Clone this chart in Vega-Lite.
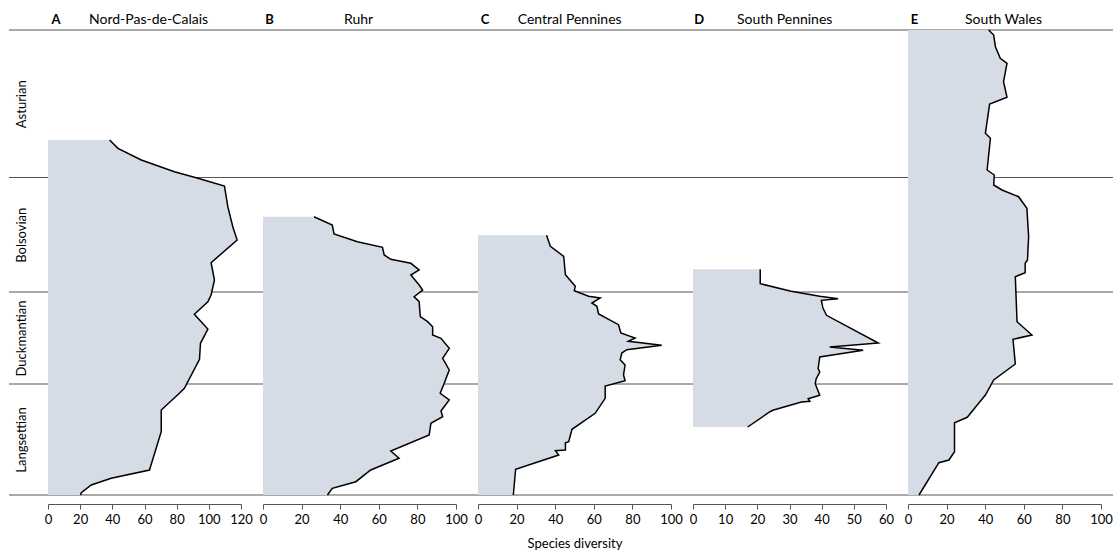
{
  "$schema": "https://vega.github.io/schema/vega-lite/v6.json",
  "background": "white",
  "padding": {"left": 8, "top": 12, "right": 8, "bottom": 2},
  "bounds": "flush",
  "spacing": 22,
  "config": {
    "font": "Lato",
    "view": {"stroke": null},
    "axis": {"grid": false, "labelFont": "Lato", "titleFont": "Lato", "labelColor": "#000", "titleColor": "#000"}
  },
  "datasets": {
    "bounds": [{"pos": 0}, {"pos": 111}, {"pos": 203}, {"pos": 317.5}, {"pos": 465}],
    "titles": [
      {"panel": "A", "letter": "A", "name": "Nord-Pas-de-Calais"},
      {"panel": "B", "letter": "B", "name": "Ruhr"},
      {"panel": "C", "letter": "C", "name": "Central Pennines"},
      {"panel": "D", "letter": "D", "name": "South Pennines"},
      {"panel": "E", "letter": "E", "name": "South Wales"}
    ],
    "A": [
      {"pos": 355, "div": 38.3}, {"pos": 346.7, "div": 43.5}, {"pos": 335, "div": 58}, {"pos": 323.3, "div": 78.6},
      {"pos": 316.7, "div": 93.2}, {"pos": 309, "div": 109.7}, {"pos": 288.3, "div": 111.8}, {"pos": 268.3, "div": 114.9},
      {"pos": 255, "div": 117.6}, {"pos": 232.3, "div": 101.4}, {"pos": 215, "div": 103.5}, {"pos": 200, "div": 101.4},
      {"pos": 193.3, "div": 99.4}, {"pos": 180.7, "div": 91}, {"pos": 166, "div": 99.4}, {"pos": 151.7, "div": 94.8},
      {"pos": 135.7, "div": 94.2}, {"pos": 106.7, "div": 84.8}, {"pos": 101.7, "div": 81.7}, {"pos": 85, "div": 70.4},
      {"pos": 63.3, "div": 70.4}, {"pos": 25, "div": 63.1}, {"pos": 16.7, "div": 39.3}, {"pos": 10, "div": 26.9},
      {"pos": 2.3, "div": 20.7}, {"pos": 0, "div": 20.2}
    ],
    "B": [
      {"pos": 278.3, "div": 26.4}, {"pos": 270, "div": 35.9}, {"pos": 261, "div": 36.8}, {"pos": 253.3, "div": 48.9},
      {"pos": 247.7, "div": 61.9}, {"pos": 240, "div": 62.8}, {"pos": 235.7, "div": 66.2}, {"pos": 231.7, "div": 76.6},
      {"pos": 225, "div": 80.9}, {"pos": 220, "div": 76.6}, {"pos": 210, "div": 80.9}, {"pos": 205, "div": 82.7},
      {"pos": 198.3, "div": 78.3}, {"pos": 193.3, "div": 80.9}, {"pos": 178.3, "div": 81.5}, {"pos": 173.3, "div": 85.3},
      {"pos": 168.3, "div": 87.9}, {"pos": 160, "div": 87.9}, {"pos": 156.7, "div": 92.2}, {"pos": 146.7, "div": 96.5},
      {"pos": 136.7, "div": 93.1}, {"pos": 125, "div": 96.5}, {"pos": 111.7, "div": 93.9}, {"pos": 101.7, "div": 91.8},
      {"pos": 95, "div": 96.5}, {"pos": 84, "div": 92.2}, {"pos": 78.3, "div": 93.1}, {"pos": 71.7, "div": 87},
      {"pos": 60, "div": 86.1}, {"pos": 44, "div": 66.2}, {"pos": 36.7, "div": 70.5}, {"pos": 25, "div": 55.8},
      {"pos": 13.3, "div": 48.1}, {"pos": 6.7, "div": 35.9}, {"pos": 0, "div": 33.4}
    ],
    "C": [
      {"pos": 259.7, "div": 35.5}, {"pos": 248.7, "div": 37.5}, {"pos": 238.7, "div": 44.4}, {"pos": 220.3, "div": 45.3},
      {"pos": 208.7, "div": 50.4}, {"pos": 204.3, "div": 49.9}, {"pos": 198.7, "div": 57.3}, {"pos": 197, "div": 63.3},
      {"pos": 192, "div": 59}, {"pos": 188.7, "div": 61.6}, {"pos": 181, "div": 62.5}, {"pos": 170.3, "div": 72.8},
      {"pos": 162, "div": 74}, {"pos": 157, "div": 81.4}, {"pos": 153.7, "div": 77.9}, {"pos": 149.7, "div": 95.2},
      {"pos": 145.3, "div": 77.1}, {"pos": 142, "div": 74.5}, {"pos": 135.3, "div": 73.7}, {"pos": 130, "div": 76.2},
      {"pos": 120, "div": 75.4}, {"pos": 114.3, "div": 76.2}, {"pos": 109, "div": 65.9}, {"pos": 96.7, "div": 65.9},
      {"pos": 81.7, "div": 60.7}, {"pos": 65.7, "div": 48.7}, {"pos": 53.3, "div": 47}, {"pos": 52.3, "div": 45.3},
      {"pos": 45, "div": 45.3}, {"pos": 44.3, "div": 40.1}, {"pos": 40, "div": 41.8}, {"pos": 25.7, "div": 19.5},
      {"pos": 0, "div": 18.3}
    ],
    "D": [
      {"pos": 225.7, "div": 20.9}, {"pos": 211.3, "div": 20.9}, {"pos": 203.7, "div": 30.5}, {"pos": 198.7, "div": 39.4},
      {"pos": 196.3, "div": 45.1}, {"pos": 194.7, "div": 39.9}, {"pos": 187, "div": 40.4}, {"pos": 179.7, "div": 41.5},
      {"pos": 152, "div": 57.6}, {"pos": 148, "div": 42.5}, {"pos": 144.7, "div": 52.9}, {"pos": 138, "div": 39.4},
      {"pos": 126.3, "div": 38.9}, {"pos": 123, "div": 39.4}, {"pos": 116.3, "div": 38.3}, {"pos": 111.3, "div": 38},
      {"pos": 99.7, "div": 39.4}, {"pos": 96.3, "div": 35.8}, {"pos": 93.7, "div": 36.3}, {"pos": 93, "div": 33.7},
      {"pos": 84.7, "div": 24.8}, {"pos": 83, "div": 23.8}, {"pos": 68, "div": 17}
    ],
    "E": [
      {"pos": 465, "div": 41.8}, {"pos": 460, "div": 44.4}, {"pos": 448.3, "div": 45.3}, {"pos": 436.7, "div": 47.8},
      {"pos": 431.7, "div": 51.3}, {"pos": 413.3, "div": 49.5}, {"pos": 397.7, "div": 51.3}, {"pos": 391, "div": 42.3},
      {"pos": 361.7, "div": 40.1}, {"pos": 356.7, "div": 42.7}, {"pos": 325, "div": 41}, {"pos": 320, "div": 44.7},
      {"pos": 310, "div": 44.4}, {"pos": 305, "div": 48.7}, {"pos": 298.3, "div": 57.3}, {"pos": 286.7, "div": 61.6},
      {"pos": 258.3, "div": 62.5}, {"pos": 235, "div": 61.9}, {"pos": 231.7, "div": 60.7}, {"pos": 222.3, "div": 60.7},
      {"pos": 218.3, "div": 55.6}, {"pos": 173.3, "div": 56.5}, {"pos": 160, "div": 64.2}, {"pos": 155.7, "div": 54.4},
      {"pos": 131, "div": 55.6}, {"pos": 115, "div": 44.4}, {"pos": 100, "div": 40.1}, {"pos": 91.7, "div": 36.6},
      {"pos": 77.7, "div": 30.7}, {"pos": 72.3, "div": 24.1}, {"pos": 43.3, "div": 24.1}, {"pos": 35, "div": 21.2},
      {"pos": 32.3, "div": 16}, {"pos": 0, "div": 5.7}
    ]
  },
  "hconcat": [
    {
      "width": 193, "height": 465,
      "encoding": {
        "x": {"type": "quantitative", "scale": {"domain": [0, 120], "nice": false},
              "axis": {"values": [0, 20, 40, 60, 80, 100, 120], "offset": 9, "tickSize": 5, "labelPadding": 4, "domainColor": "#555", "tickColor": "#555", "labelFontSize": 13, "labelFlush": false, "labelOverlap": false, "title": null}},
        "y": {"type": "quantitative", "scale": {"domain": [0, 465], "nice": false, "zero": false},
              "axis": {"values": [55.5, 157, 260.25, 391.25], "labelExpr": "datum.value < 100 ? 'Langsettian' : datum.value < 200 ? 'Duckmantian' : datum.value < 300 ? 'Bolsovian' : 'Asturian'",
                       "labelAngle": -90, "labelAlign": "center", "labelBaseline": "bottom", "domain": false, "ticks": false, "tickSize": 0, "labelPadding": 20, "labelFontSize": 13, "title": null, "labelOverlap": false}}
      },
      "layer": [
        {"data": {"name": "bounds"}, "mark": {"type": "rule", "color": "#555", "strokeWidth": 1},
         "encoding": {"y": {"field": "pos"}, "x": {"datum": -24.25}, "x2": {"datum": 133.68}}},
        {"data": {"name": "A"}, "mark": {"type": "area", "orient": "horizontal", "color": "#d6dce5"},
         "encoding": {"y": {"field": "pos"}, "x": {"field": "div", "stack": null}}},
        {"data": {"name": "A"}, "mark": {"type": "line", "color": "#000", "strokeWidth": 1.5},
         "encoding": {"y": {"field": "pos"}, "x": {"field": "div"}, "order": {"field": "pos", "type": "quantitative"}}},
        {"data": {"name": "titles"}, "transform": [{"filter": "datum.panel === 'A'"}], "mark": {"type": "text", "fontWeight": "bold", "fontSize": 13, "align": "center", "baseline": "alphabetic"},
         "encoding": {"text": {"field": "letter"}, "x": {"datum": 5}, "y": {"datum": 471}}},
        {"data": {"name": "titles"}, "transform": [{"filter": "datum.panel === 'A'"}], "mark": {"type": "text", "fontSize": 14, "align": "center", "baseline": "alphabetic"},
         "encoding": {"text": {"field": "name"}, "x": {"datum": 62.5}, "y": {"datum": 471}}}
      ]
    },
    {
      "width": 193, "height": 465,
      "encoding": {
        "x": {"type": "quantitative", "scale": {"domain": [0, 100], "nice": false},
              "axis": {"values": [0, 20, 40, 60, 80, 100], "offset": 9, "tickSize": 5, "labelPadding": 4, "domainColor": "#555", "tickColor": "#555", "labelFontSize": 13, "labelFlush": false, "labelOverlap": false, "title": null}},
        "y": {"type": "quantitative", "scale": {"domain": [0, 465], "nice": false, "zero": false}, "axis": null}
      },
      "layer": [
        {"data": {"name": "bounds"}, "mark": {"type": "rule", "color": "#555", "strokeWidth": 1},
         "encoding": {"y": {"field": "pos"}, "x": {"datum": 0}, "x2": {"datum": 111.4}}},
        {"data": {"name": "B"}, "mark": {"type": "area", "orient": "horizontal", "color": "#d6dce5"},
         "encoding": {"y": {"field": "pos"}, "x": {"field": "div", "stack": null}}},
        {"data": {"name": "B"}, "mark": {"type": "line", "color": "#000", "strokeWidth": 1.5},
         "encoding": {"y": {"field": "pos"}, "x": {"field": "div"}, "order": {"field": "pos", "type": "quantitative"}}},
        {"data": {"name": "titles"}, "transform": [{"filter": "datum.panel === 'B'"}], "mark": {"type": "text", "fontWeight": "bold", "fontSize": 13, "align": "center", "baseline": "alphabetic"},
         "encoding": {"text": {"field": "letter"}, "x": {"datum": 3.4}, "y": {"datum": 471}}},
        {"data": {"name": "titles"}, "transform": [{"filter": "datum.panel === 'B'"}], "mark": {"type": "text", "fontSize": 14, "align": "center", "baseline": "alphabetic"},
         "encoding": {"text": {"field": "name"}, "x": {"datum": 49.5}, "y": {"datum": 471}}}
      ]
    },
    {
      "width": 193, "height": 465,
      "encoding": {
        "x": {"type": "quantitative", "scale": {"domain": [0, 100], "nice": false},
              "axis": {"values": [0, 20, 40, 60, 80, 100], "offset": 9, "tickSize": 5, "labelPadding": 4, "domainColor": "#555", "tickColor": "#555", "labelFontSize": 13, "labelFlush": false, "labelOverlap": false, "title": "Species diversity", "titleFontSize": 13, "titleFontWeight": "normal", "titlePadding": 11}},
        "y": {"type": "quantitative", "scale": {"domain": [0, 465], "nice": false, "zero": false}, "axis": null}
      },
      "layer": [
        {"data": {"name": "bounds"}, "mark": {"type": "rule", "color": "#555", "strokeWidth": 1},
         "encoding": {"y": {"field": "pos"}, "x": {"datum": 0}, "x2": {"datum": 111.4}}},
        {"data": {"name": "C"}, "mark": {"type": "area", "orient": "horizontal", "color": "#d6dce5"},
         "encoding": {"y": {"field": "pos"}, "x": {"field": "div", "stack": null}}},
        {"data": {"name": "C"}, "mark": {"type": "line", "color": "#000", "strokeWidth": 1.5},
         "encoding": {"y": {"field": "pos"}, "x": {"field": "div"}, "order": {"field": "pos", "type": "quantitative"}}},
        {"data": {"name": "titles"}, "transform": [{"filter": "datum.panel === 'C'"}], "mark": {"type": "text", "fontWeight": "bold", "fontSize": 13, "align": "center", "baseline": "alphabetic"},
         "encoding": {"text": {"field": "letter"}, "x": {"datum": 3.6}, "y": {"datum": 471}}},
        {"data": {"name": "titles"}, "transform": [{"filter": "datum.panel === 'C'"}], "mark": {"type": "text", "fontSize": 14, "align": "center", "baseline": "alphabetic"},
         "encoding": {"text": {"field": "name"}, "x": {"datum": 47.5}, "y": {"datum": 471}}}
      ]
    },
    {
      "width": 193, "height": 465,
      "encoding": {
        "x": {"type": "quantitative", "scale": {"domain": [0, 60], "nice": false},
              "axis": {"values": [0, 10, 20, 30, 40, 50, 60], "offset": 9, "tickSize": 5, "labelPadding": 4, "domainColor": "#555", "tickColor": "#555", "labelFontSize": 13, "labelFlush": false, "labelOverlap": false, "title": null}},
        "y": {"type": "quantitative", "scale": {"domain": [0, 465], "nice": false, "zero": false}, "axis": null}
      },
      "layer": [
        {"data": {"name": "bounds"}, "mark": {"type": "rule", "color": "#555", "strokeWidth": 1},
         "encoding": {"y": {"field": "pos"}, "x": {"datum": 0}, "x2": {"datum": 66.84}}},
        {"data": {"name": "D"}, "mark": {"type": "area", "orient": "horizontal", "color": "#d6dce5"},
         "encoding": {"y": {"field": "pos"}, "x": {"field": "div", "stack": null}}},
        {"data": {"name": "D"}, "mark": {"type": "line", "color": "#000", "strokeWidth": 1.5},
         "encoding": {"y": {"field": "pos"}, "x": {"field": "div"}, "order": {"field": "pos", "type": "quantitative"}}},
        {"data": {"name": "titles"}, "transform": [{"filter": "datum.panel === 'D'"}], "mark": {"type": "text", "fontWeight": "bold", "fontSize": 13, "align": "center", "baseline": "alphabetic"},
         "encoding": {"text": {"field": "letter"}, "x": {"datum": 1.9}, "y": {"datum": 471}}},
        {"data": {"name": "titles"}, "transform": [{"filter": "datum.panel === 'D'"}], "mark": {"type": "text", "fontSize": 14, "align": "center", "baseline": "alphabetic"},
         "encoding": {"text": {"field": "name"}, "x": {"datum": 28.5}, "y": {"datum": 471}}}
      ]
    },
    {
      "width": 193, "height": 465,
      "encoding": {
        "x": {"type": "quantitative", "scale": {"domain": [0, 100], "nice": false},
              "axis": {"values": [0, 20, 40, 60, 80, 100], "offset": 9, "tickSize": 5, "labelPadding": 4, "domainColor": "#555", "tickColor": "#555", "labelFontSize": 13, "labelFlush": false, "labelOverlap": false, "title": null}},
        "y": {"type": "quantitative", "scale": {"domain": [0, 465], "nice": false, "zero": false}, "axis": null}
      },
      "layer": [
        {"data": {"name": "bounds"}, "mark": {"type": "rule", "color": "#555", "strokeWidth": 1},
         "encoding": {"y": {"field": "pos"}, "x": {"datum": 0}, "x2": {"datum": 106.2}}},
        {"data": {"name": "E"}, "mark": {"type": "area", "orient": "horizontal", "color": "#d6dce5"},
         "encoding": {"y": {"field": "pos"}, "x": {"field": "div", "stack": null}}},
        {"data": {"name": "E"}, "mark": {"type": "line", "color": "#000", "strokeWidth": 1.5},
         "encoding": {"y": {"field": "pos"}, "x": {"field": "div"}, "order": {"field": "pos", "type": "quantitative"}}},
        {"data": {"name": "titles"}, "transform": [{"filter": "datum.panel === 'E'"}], "mark": {"type": "text", "fontWeight": "bold", "fontSize": 13, "align": "center", "baseline": "alphabetic"},
         "encoding": {"text": {"field": "letter"}, "x": {"datum": 3.4}, "y": {"datum": 471}}},
        {"data": {"name": "titles"}, "transform": [{"filter": "datum.panel === 'E'"}], "mark": {"type": "text", "fontSize": 14, "align": "center", "baseline": "alphabetic"},
         "encoding": {"text": {"field": "name"}, "x": {"datum": 49.5}, "y": {"datum": 471}}}
      ]
    }
  ]
}
